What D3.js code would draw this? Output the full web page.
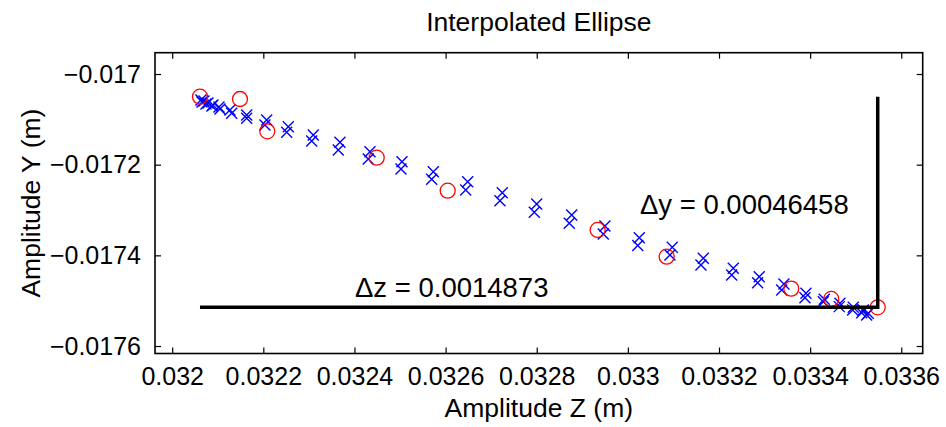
<!DOCTYPE html>
<html><head><meta charset="utf-8">
<script src="https://cdn.jsdelivr.net/npm/d3@7"></script>
<style>body{margin:0;background:#fff}svg{display:block}text{font-family:"Liberation Sans",Arial,Helvetica,sans-serif}</style>
</head><body><svg id="c" width="946" height="427"></svg>
<script>
// Original (measured) points: red circles
const circleZ = [0.0320610, 0.0321488, 0.0322087, 0.0324488, 0.0326046, 0.0329337, 0.0330851, 0.0333586, 0.0334463, 0.0335483];
const circleY = [-0.0170500, -0.0170551, -0.0171264, -0.0171846, -0.0172573, -0.0173440, -0.0174029, -0.0174734, -0.0174961, -0.0175146];
// Interpolated ellipse: blue crosses (out along one side, back along the other)
const interpZ = [0.0320632, 0.0320698, 0.0320786, 0.0320895, 0.0321027, 0.0321268, 0.0321635, 0.0322074, 0.0322548, 0.0323096, 0.0323682, 0.0324341, 0.0325043, 0.0325730, 0.0326485, 0.0327244, 0.0327999, 0.0328767, 0.0329497, 0.0330250, 0.0330974, 0.0331655, 0.0332313, 0.0332883, 0.0333425, 0.0333908, 0.0334310, 0.0334654, 0.0334946, 0.0335166, 0.0335275,
  0.0335240, 0.0335131, 0.0334933, 0.0334639, 0.0334288, 0.0333886, 0.0333375, 0.0332848, 0.0332278, 0.0331604, 0.0330924, 0.0330217, 0.0329460, 0.0328714, 0.0327946, 0.0327193, 0.0326441, 0.0325695, 0.0325021, 0.0324303, 0.0323645, 0.0323061, 0.0322513, 0.0322036, 0.0321635, 0.0321306, 0.0321049, 0.0320873, 0.0320742, 0.0320654];
const interpY = [-0.0170573, -0.0170595, -0.0170639, -0.0170684, -0.0170728, -0.0170794, -0.0170904, -0.0171014, -0.0171162, -0.0171345, -0.0171506, -0.0171713, -0.0171934, -0.0172154, -0.0172375, -0.0172617, -0.0172867, -0.0173109, -0.0173352, -0.0173612, -0.0173821, -0.0174064, -0.0174285, -0.0174470, -0.0174631, -0.0174836, -0.0174968, -0.0175056, -0.0175144, -0.0175204, -0.0175277,
  -0.0175314, -0.0175264, -0.0175204, -0.0175131, -0.0175021, -0.0174933, -0.0174763, -0.0174602, -0.0174432, -0.0174212, -0.0173991, -0.0173782, -0.0173528, -0.0173292, -0.0173050, -0.0172794, -0.0172558, -0.0172322, -0.0172095, -0.0171874, -0.0171676, -0.0171477, -0.0171286, -0.0171125, -0.0170977, -0.0170867, -0.0170772, -0.0170706, -0.0170662, -0.0170617];
const xTicks = [0.032, 0.0322, 0.0324, 0.0326, 0.0328, 0.033, 0.0332, 0.0334, 0.0336];
const xTickLabels = ["0.032", "0.0322", "0.0324", "0.0326", "0.0328", "0.033", "0.0332", "0.0334", "0.0336"];
const yTicks = [-0.017, -0.0172, -0.0174, -0.0176];
const yTickLabels = ["\u22120.017", "\u22120.0172", "\u22120.0174", "\u22120.0176"];
const xDomain = [0.0319623, 0.0336470];
const yDomain = [-0.0176165, -0.0169530];
const dzLabel = "\u0394z = 0.0014873";
const dyLabel = "\u0394y = 0.00046458";
const titleText = "Interpolated Ellipse";
const xLabelText = "Amplitude Z (m)";
const yLabelText = "Amplitude Y (m)";

const W = 946, H = 427;
const m = {l: 155, t: 52.7, r: 23.3, b: 73.5};
const svg = d3.select("#c");
const x = d3.scaleLinear().domain(xDomain).range([m.l, W - m.r]);
const y = d3.scaleLinear().domain(yDomain).range([H - m.b, m.t]);
const FS = 25, FL = 26.5, FA = 27.5;

// axes
const ax = svg.append("g");
const xl = d => xTickLabels[xTicks.indexOf(d)];
const yl = d => yTickLabels[yTicks.indexOf(d)];
const gB = ax.append("g").attr("transform", `translate(0,${H - m.b})`)
  .call(d3.axisBottom(x).tickValues(xTicks).tickFormat(xl).tickSizeInner(-6).tickSizeOuter(0).tickPadding(14));
const gT = ax.append("g").attr("transform", `translate(0,${m.t})`)
  .call(d3.axisTop(x).tickValues(xTicks).tickFormat("").tickSizeInner(-6).tickSizeOuter(0));
const gL = ax.append("g").attr("transform", `translate(${m.l},0)`)
  .call(d3.axisLeft(y).tickValues(yTicks).tickFormat(yl).tickSizeInner(-6).tickSizeOuter(0).tickPadding(14));
const gR = ax.append("g").attr("transform", `translate(${W - m.r},0)`)
  .call(d3.axisRight(y).tickValues(yTicks).tickFormat("").tickSizeInner(-6).tickSizeOuter(0));
[gB, gT, gL, gR].forEach(g => {
  g.select(".domain").remove();
  g.selectAll("line").attr("stroke", "#000").attr("stroke-width", 1.2);
  g.selectAll("text").attr("fill", "#000").style("font-size", FS + "px").style("font-family", '"Liberation Sans",Arial,sans-serif');
});
ax.append("rect").attr("x", m.l).attr("y", m.t).attr("width", W - m.r - m.l).attr("height", H - m.b - m.t)
  .attr("fill", "none").attr("stroke", "#000").attr("stroke-width", 1.6);

// blue crosses
const pts = interpZ.map((z, i) => [z, interpY[i]]);
svg.append("g").selectAll("path").data(pts).join("path")
  .attr("transform", d => `translate(${x(d[0])},${y(d[1])})`)
  .attr("d", "M-5.5,-5.5L5.5,5.5M5.5,-5.5L-5.5,5.5")
  .attr("stroke", "#0000ff").attr("stroke-width", 1.4).attr("fill", "none");

// red circles
const cps = circleZ.map((z, i) => [z, circleY[i]]);
svg.append("g").selectAll("circle").data(cps).join("circle")
  .attr("cx", d => x(d[0])).attr("cy", d => y(d[1])).attr("r", 7.5)
  .attr("fill", "none").attr("stroke", "#ff0000").attr("stroke-width", 1.3);

// delta lines
const zMin = d3.min(circleZ), zMax = d3.max(circleZ);
const yMin = d3.min(circleY), yMax = d3.max(circleY);
const line = d3.line().x(d => x(d[0])).y(d => y(d[1]));
svg.append("path").attr("d", line([[zMin, yMin], [zMax, yMin], [zMax, yMax]]))
  .attr("fill", "none").attr("stroke", "#000").attr("stroke-width", 3.5).attr("stroke-linejoin", "miter");

// annotations
svg.append("text").attr("x", x(0.0324012)).attr("y", y(-0.0174917)).text(dzLabel)
  .style("font-size", FA + "px").attr("fill", "#000");
svg.append("text").attr("x", x(0.0330265)).attr("y", y(-0.0173087)).text(dyLabel)
  .style("font-size", FA + "px").attr("fill", "#000");

// titles
svg.append("text").attr("x", (m.l + W - m.r) / 2).attr("y", 31).attr("text-anchor", "middle")
  .style("font-size", FL + "px").text(titleText);
svg.append("text").attr("x", (m.l + W - m.r) / 2).attr("y", 417).attr("text-anchor", "middle")
  .style("font-size", FL + "px").text(xLabelText);
svg.append("text").attr("transform", `translate(40,${(m.t + H - m.b) / 2}) rotate(-90)`).attr("text-anchor", "middle")
  .style("font-size", FL + "px").text(yLabelText);
</script></body></html>
